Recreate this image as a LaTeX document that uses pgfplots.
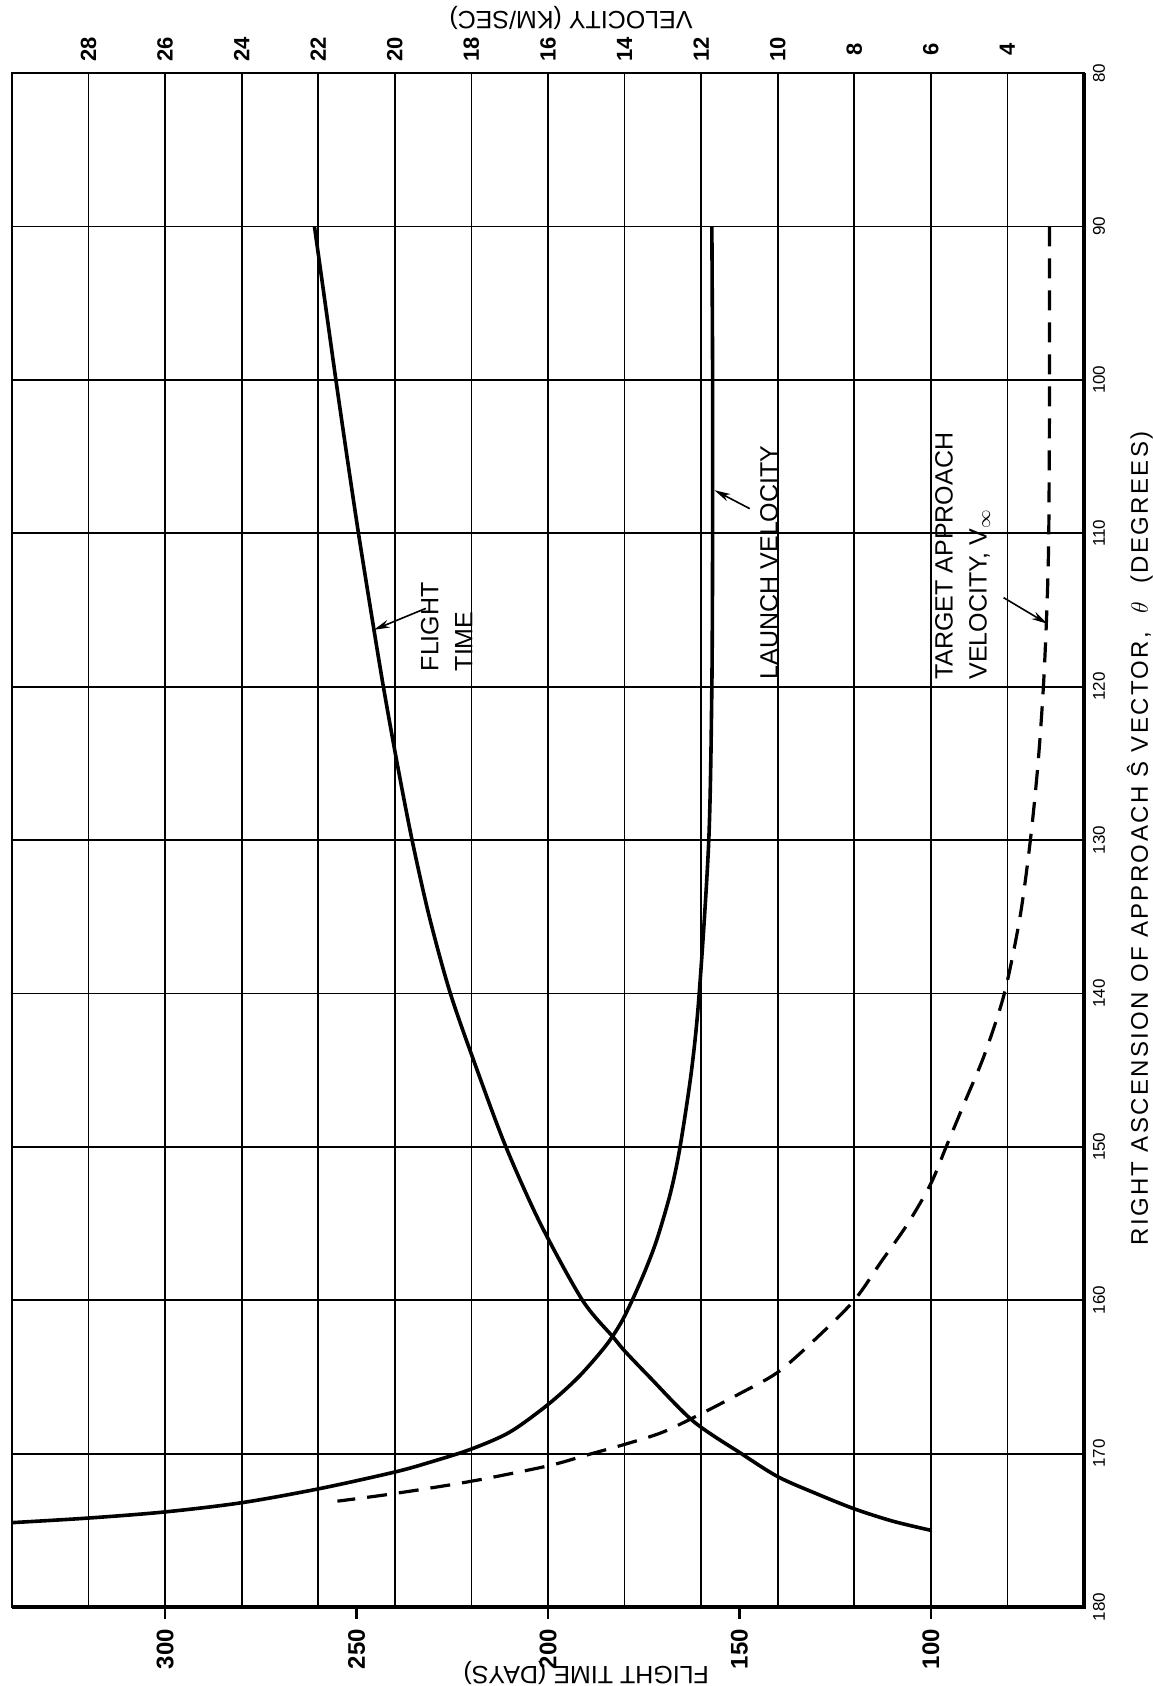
\documentclass[border=0pt]{standalone}
\usepackage{fontspec}
\setmainfont{Liberation Sans}
\usepackage{pgfplots}
\pgfplotsset{compat=1.18}
\usetikzlibrary{arrows.meta,calc}

\begin{document}
\begin{tikzpicture}
% ---------- axis 1 : flight time (days) vs right ascension ----------
\begin{axis}[
  width=536pt, height=767pt, scale only axis,
  xmin=60, xmax=340, x dir=reverse,
  ymin=80, ymax=180, y dir=reverse,
  clip=false,
  axis line style={line width=1pt},
  xtick={100,150,200,250,300},
  xtick pos=left,
  tick align=outside,
  major tick length=6pt,
  x tick style={line width=1.2pt, black},
  xticklabel style={yshift=-15pt, rotate=90, anchor=center, font=\fontsize{12}{14}\selectfont\bfseries},
  ytick={80,90,...,180},
  ytick pos=right, yticklabel pos=right,
  y tick style={draw=none},
  yticklabel style={xshift=1.5pt, rotate=90, anchor=center, font=\fontsize{8.5}{10}\selectfont},
  ymajorgrids,
  grid style={line width=0.9pt, black},
  /pgf/number format/assume math mode=true,
]
\addplot[line width=1.8pt, smooth] coordinates {
 (261,90) (258.2,95) (255.4,100) (252.5,105) (249.5,110) (246.3,115) (243,120)
 (239.4,125) (235.5,130) (231,135) (225.5,140) (218.5,145) (211,150)
 (202,155) (191,160) (183,162.4) (180,163.3) (173.5,165) (162,167.9)
 (149.5,170) (140,171.5) (130,172.6) (120,173.6) (110,174.4) (100,175)
};
% thick right and bottom borders
\draw[line width=1.6pt] (axis cs:340,180) -- (axis cs:60,180);
\draw[line width=2.4pt] (axis cs:60,180.1) -- (axis cs:60,80);
\coordinate (BL) at (axis cs:340,180);
\coordinate (TR) at (axis cs:60,80);
% curve labels
\node[rotate=90, align=left, inner sep=0pt, font=\fontsize{12.5}{17}\selectfont] at (axis cs:226.5,116.1) {FLIGHT\\TIME};
\draw[line width=0.8pt, -{Stealth[length=8pt,width=4pt]}] (axis cs:231.9,114.9) -- (axis cs:245.5,116.3);
\node[rotate=90, inner sep=0pt, font=\fontsize{12.5}{15}\selectfont] at (axis cs:142.3,111.9) {LAUNCH VELOCITY};
\draw[line width=0.8pt, -{Stealth[length=8pt,width=4pt]}] (axis cs:147.3,108.4) -- (axis cs:156.5,107.2);
\node[rotate=90, align=left, inner sep=0pt, font=\fontsize{12.5}{17}\selectfont] at (axis cs:91.7,111.5) {TARGET APPROACH\\VELOCITY, V$_\infty$};
\draw[line width=0.8pt, -{Stealth[length=8pt,width=4pt]}] (axis cs:81,114.2) -- (axis cs:69.6,115.9);
% axis titles
\node[rotate=180, font=\fontsize{12.5}{15}\selectfont] at ([yshift=-33pt]axis cs:190,180) {FLIGHT TIME (DAYS)};
\node[rotate=180, font=\fontsize{12.5}{15}\selectfont] at ([yshift=27.5pt]axis cs:194,80) {VELOCITY (KM/SEC)};
\node[rotate=90, anchor=base, inner sep=0pt, font=\fontsize{12}{14}\selectfont\addfontfeatures{LetterSpace=10}] at ([xshift=32pt]axis cs:60,129.9) {RIGHT ASCENSION OF APPROACH Ŝ VECTOR, \ $\theta$ \ (DEGREES)};
\end{axis}

% ---------- axis 2 : velocity (km/sec) ----------
\begin{axis}[
  width=536pt, height=767pt, scale only axis,
  xmin=2, xmax=30, x dir=reverse,
  ymin=80, ymax=180, y dir=reverse,
  clip=false,
  axis line style={draw=none},
  xtick={4,6,...,28},
  xtick pos=right, xticklabel pos=right,
  x tick style={draw=none},
  xticklabel style={yshift=12pt, rotate=90, anchor=center, font=\fontsize{11}{13}\selectfont\bfseries},
  ytick=\empty,
  xmajorgrids,
  grid style={line width=0.9pt, black},
  /pgf/number format/assume math mode=true,
]
% launch velocity
\addplot[line width=1.8pt, smooth] coordinates {
 (11.72,90) (11.70,100) (11.70,110) (11.72,120) (11.8,130) (12.05,140)
 (12.25,145) (12.55,150) (12.8,153) (13.15,156) (13.45,158) (13.8,160)
 (14.1,161.5) (14.5,163) (15.2,165) (16.0,166.8) (17.0,168.6) (18.0,169.7)
 (19.0,170.5) (20.0,171.2) (22.0,172.3) (24.0,173.2) (26.0,173.8)
 (28.0,174.2) (30.0,174.5)
};
% target approach velocity
\addplot[line width=1.6pt, dash pattern=on 10pt off 6pt, smooth] coordinates {
 (2.9,90) (2.9,100) (2.92,110) (2.97,115) (3.06,120) (3.2,125) (3.4,130)
 (3.67,135) (4.08,140) (4.6,144) (5.1,147) (5.6,150) (6.0,152.4) (6.6,155)
 (7.3,157.5) (8.0,160) (9.0,162.5) (10.0,164.7) (11.0,166.1) (12.0,167.4)
 (13.0,168.6) (14.0,169.4) (15.0,170.1) (16.0,170.8) (18.0,171.8)
 (20.0,172.6) (21.5,173.1)
};
\end{axis}

\pgfresetboundingbox
\path[use as bounding box] ($(BL)+(-6pt,-39.5pt)$) rectangle ($(TR)+(34.5pt,36.5pt)$);
\end{tikzpicture}
\end{document}
